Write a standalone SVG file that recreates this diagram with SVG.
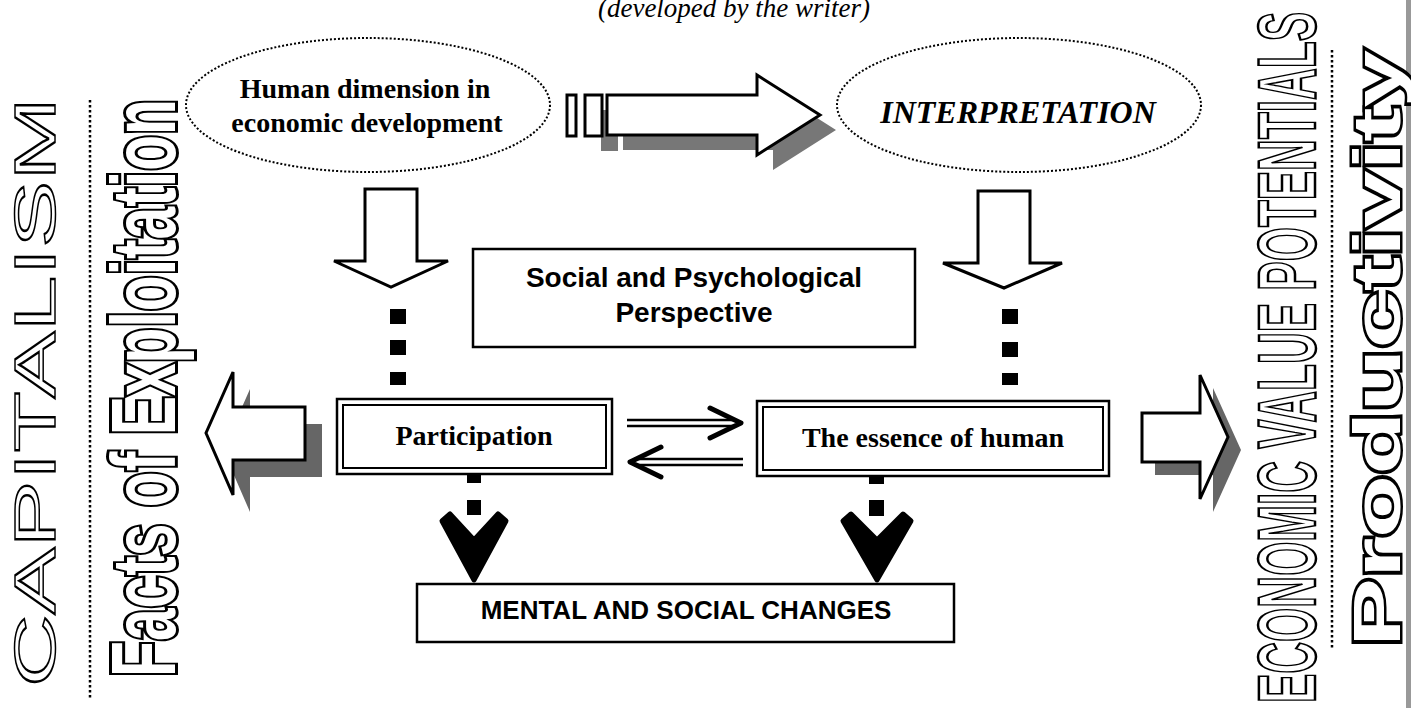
<svg xmlns="http://www.w3.org/2000/svg" width="1411" height="708" viewBox="0 0 1411 708">
<style>
.serif{font-family:"Liberation Serif","Times New Roman",serif;font-weight:bold;fill:#000}
.sans{font-family:"Liberation Sans",Arial,sans-serif;font-weight:bold;fill:#000}
.box{fill:#fff;stroke:#000;stroke-width:2.5}
.inner{fill:none;stroke:#000;stroke-width:2}
.block{fill:#fff;stroke:#000;stroke-width:3;stroke-linejoin:miter}
.shadow{fill:#666;stroke:none}
.sq{fill:#000}
.dotline{stroke:#000;stroke-width:2.5;stroke-dasharray:2.5 2.5;fill:none}
.ell{fill:#fff;stroke:#000;stroke-width:2;stroke-dasharray:2 2}
.chev{fill:none;stroke:#000;stroke-width:5;stroke-linecap:round;stroke-linejoin:round}
.shaft{stroke:#000;stroke-width:2.5}
.vhead{fill:#000;stroke:#000;stroke-width:5;stroke-linejoin:round}
.hollow{font-family:"Liberation Sans",Arial,sans-serif;fill:#fff;stroke:#000}
</style>

<rect width="1411" height="708" fill="#fff"/>
<rect x="1406" y="0" width="5" height="708" fill="#999"/>

<text x="734" y="17" text-anchor="middle" font-family="Liberation Serif, Times New Roman, serif" font-style="italic" font-size="27" fill="#000">(developed by the writer)</text>

<g id="side-left">
  <text class="hollow" transform="translate(55,687) rotate(-90)" font-size="58" stroke-width="1.5" textLength="590" lengthAdjust="spacingAndGlyphs">CAPITALISM</text>
  <line class="dotline" x1="90" y1="100" x2="90" y2="698"/>
  <text class="hollow" transform="translate(175,677) rotate(-90)" font-size="90" font-weight="bold" stroke-width="6" paint-order="stroke" textLength="578" lengthAdjust="spacingAndGlyphs">Facts of Exploitation</text>
</g>

<g id="side-right">
  <text class="hollow" transform="translate(1315,703) rotate(-90)" font-size="81" font-weight="bold" stroke-width="2.5" textLength="691" lengthAdjust="spacingAndGlyphs">ECONOMIC VALUE POTENTIALS</text>
  <line class="dotline" x1="1332" y1="50" x2="1332" y2="648"/>
  <text class="hollow" transform="translate(1400,647) rotate(-90)" font-size="67" font-weight="bold" stroke-width="5" paint-order="stroke" textLength="597" lengthAdjust="spacingAndGlyphs">Productivity</text>
</g>

<g id="human-dimension">
  <ellipse class="ell" cx="368" cy="105" rx="182" ry="67"/>
  <text class="serif" x="365" y="98" text-anchor="middle" font-size="28">Human dimension in</text>
  <text class="serif" x="367" y="132" text-anchor="middle" font-size="28">economic development</text>
</g>

<g id="interpretation">
  <ellipse class="ell" cx="1019" cy="105" rx="182" ry="67"/>
  <text class="serif" x="1018" y="123" text-anchor="middle" font-size="32" font-style="italic">INTERPRETATION</text>
</g>

<g id="social">
  <rect class="box" x="473" y="249" width="442" height="98"/>
  <text class="sans" x="694" y="287" text-anchor="middle" font-size="28">Social and Psychological</text>
  <text class="sans" x="694" y="322" text-anchor="middle" font-size="28">Perspective</text>
</g>

<g id="participation">
  <rect class="box" x="337" y="399" width="275" height="75"/>
  <rect class="inner" x="343" y="405" width="263" height="63"/>
  <text class="serif" x="474" y="445" text-anchor="middle" font-size="28">Participation</text>
</g>

<g id="essence">
  <rect class="box" x="757" y="401" width="352" height="75"/>
  <rect class="inner" x="763" y="407" width="340" height="63"/>
  <text class="serif" x="933" y="447" text-anchor="middle" font-size="28">The essence of human</text>
</g>

<g id="mental">
  <rect class="box" x="417" y="584" width="537" height="58"/>
  <text class="sans" x="686" y="619" text-anchor="middle" font-size="26">MENTAL AND SOCIAL CHANGES</text>
</g>

<g id="connectors">
  <g transform="translate(16,15)" fill="#777">
    <rect x="585" y="95" width="17" height="41"/>
    <path d="M607,95 H757 V75 L820,115 L757,155 V135 H607 Z"/>
  </g>
  <rect class="block" x="567" y="95" width="9" height="41"/>
  <rect class="block" x="585" y="95" width="17" height="41"/>
  <path class="block" d="M607,95 H757 V75 L820,115 L757,155 V135 H607 Z"/>

  <path class="block" d="M365,189 H417 V261 H448 L391,287 L334,261 H365 Z"/>
  <path class="block" d="M978,191 H1030 V263 H1062 L1004,288 L943,263 H978 Z"/>

  <rect class="sq" x="390" y="309" width="16" height="15"/>
  <rect class="sq" x="390" y="340" width="16" height="15"/>
  <rect class="sq" x="390" y="372" width="16" height="13"/>
  <rect class="sq" x="1002" y="309" width="16" height="15"/>
  <rect class="sq" x="1002" y="342" width="16" height="15"/>
  <rect class="sq" x="1002" y="373" width="16" height="12"/>

  <line class="shaft" x1="627" y1="420" x2="736" y2="420"/>
  <line class="shaft" x1="627" y1="426" x2="736" y2="426"/>
  <path class="chev" d="M710,408 L741,423 L710,438"/>
  <line class="shaft" x1="634" y1="459" x2="743" y2="459"/>
  <line class="shaft" x1="634" y1="465" x2="743" y2="465"/>
  <path class="chev" d="M661,447 L630,462 L661,477"/>

  <rect class="sq" x="467" y="474" width="14" height="9"/>
  <rect class="sq" x="467" y="500" width="14" height="15"/>
  <path class="vhead" d="M442,521 L474,580 L506,521 L498,514 L474,540 L450,514 Z"/>
  <rect class="sq" x="869" y="476" width="15" height="8"/>
  <rect class="sq" x="869" y="500" width="15" height="16"/>
  <path class="vhead" d="M843,521 L877,580 L911,521 L903,514 L877,540 L851,514 Z"/>

  <path class="shadow" transform="translate(17,17)" d="M305,407 H233 V372 L206,433 L233,495 V460 H305 Z"/>
  <path class="block" d="M305,407 H233 V372 L206,433 L233,495 V460 H305 Z"/>
  <path class="shadow" transform="translate(13,13)" d="M1142,413 H1200 V375 L1228,437 L1200,499 V462 H1142 Z"/>
  <path class="block" d="M1142,413 H1200 V375 L1228,437 L1200,499 V462 H1142 Z"/>
</g>
</svg>
